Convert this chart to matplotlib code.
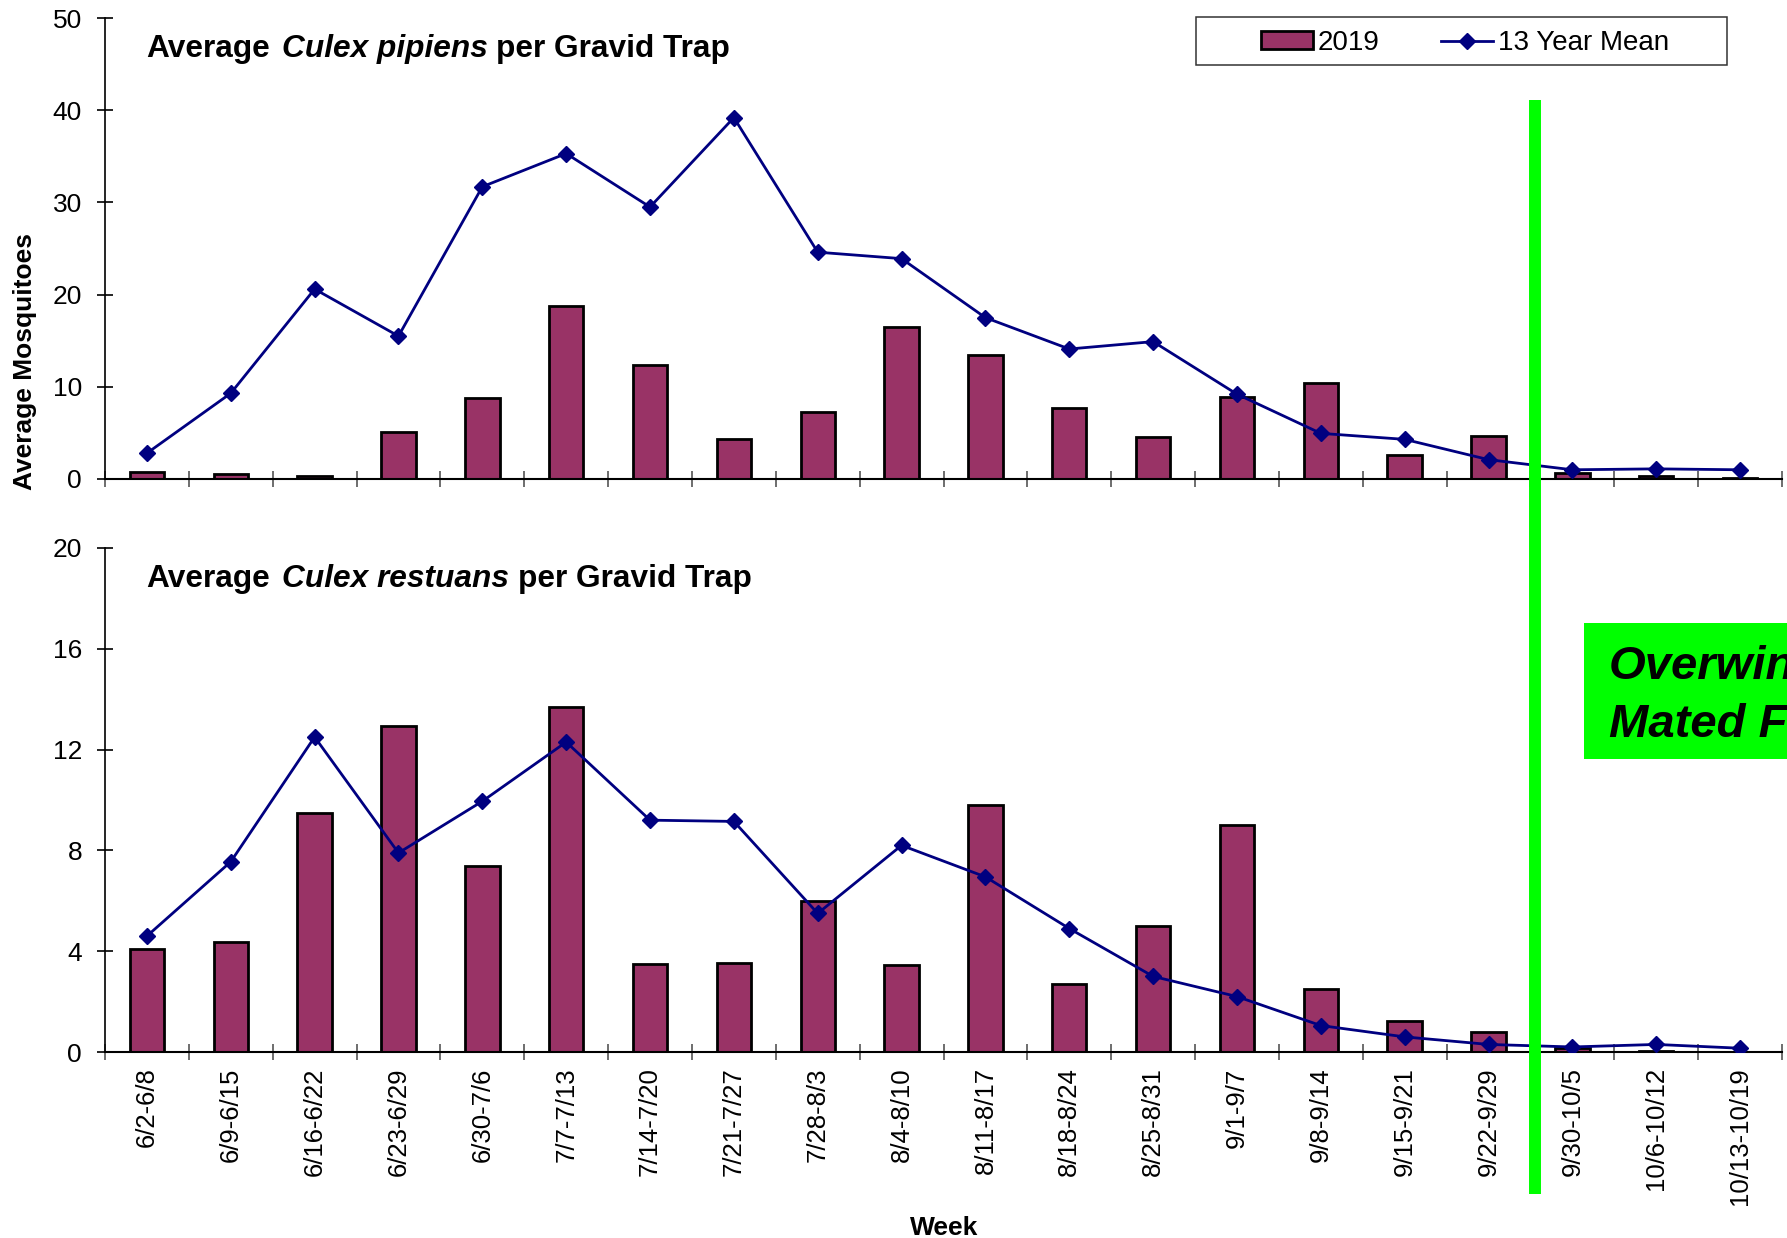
import numpy as np
import matplotlib
matplotlib.use("Agg")
import matplotlib.pyplot as plt
from matplotlib.patches import Rectangle, Patch
from matplotlib.lines import Line2D

plt.rcParams['font.family'] = ['Liberation Sans', 'DejaVu Sans']

# Weekly collection periods
weeks = ["6/2-6/8", "6/9-6/15", "6/16-6/22", "6/23-6/29", "6/30-7/6",
         "7/7-7/13", "7/14-7/20", "7/21-7/27", "7/28-8/3", "8/4-8/10",
         "8/11-8/17", "8/18-8/24", "8/25-8/31", "9/1-9/7", "9/8-9/14",
         "9/15-9/21", "9/22-9/29", "9/30-10/5", "10/6-10/12", "10/13-10/19"]

# Culex pipiens: 2019 averages and 13-year mean
pipiens_2019 = [0.8, 0.5, 0.3, 5.1, 8.8, 18.8, 12.4, 4.3, 7.3, 16.5,
                13.5, 7.7, 4.6, 8.9, 10.4, 2.6, 4.7, 0.7, 0.35, 0.1]
pipiens_mean = [2.8, 9.3, 20.6, 15.5, 31.7, 35.3, 29.5, 39.2, 24.6, 23.9,
                17.5, 14.1, 14.9, 9.2, 4.95, 4.3, 2.1, 1.0, 1.1, 1.0]

# Culex restuans: 2019 averages and 13-year mean
restuans_2019 = [4.1, 4.35, 9.5, 12.95, 7.4, 13.7, 3.5, 3.55, 6.0, 3.45,
                 9.8, 2.7, 5.0, 9.0, 2.5, 1.25, 0.8, 0.15, 0.05, 0.0]
restuans_mean = [4.6, 7.55, 12.5, 7.9, 9.95, 12.3, 9.2, 9.15, 5.5, 8.2,
                 6.95, 4.9, 3.0, 2.2, 1.05, 0.6, 0.3, 0.2, 0.3, 0.15]

pipiens_ticks = [0, 10, 20, 30, 40, 50]
restuans_ticks = [0, 4, 8, 12, 16, 20]

# Position of the overwintering cutoff between weeks
cutoff_week = 16.55

BAR_COLOR = '#993366'
LINE_COLOR = '#000080'
GREEN = '#00FF00'

W, H = 1787, 1238
fig = plt.figure(figsize=(W / 100, H / 100), dpi=100)

ax1 = fig.add_axes([105 / W, 1 - 479 / H, (1782 - 105) / W, (479 - 18) / H])
ax2 = fig.add_axes([105 / W, 1 - 1052 / H, (1782 - 105) / W, (1052 - 548) / H])

x = np.arange(len(weeks))


def draw_panel(ax, bars, mean, yticks):
    ax.bar(x, bars, width=0.41, color=BAR_COLOR, edgecolor='black',
           linewidth=2, zorder=2)
    ax.plot(x, mean, color=LINE_COLOR, lw=2, marker='D', ms=8.5,
            markeredgecolor=LINE_COLOR, zorder=3)
    ax.set_xlim(-0.5, len(weeks) - 0.5)
    ax.set_ylim(yticks[0], yticks[-1])
    ax.set_yticks(yticks)
    ax.set_xticks(np.arange(-0.5, len(weeks)), labels=[])
    ax.spines['top'].set_visible(False)
    ax.spines['right'].set_visible(False)
    ax.spines['left'].set_linewidth(1.2)
    ax.spines['bottom'].set_linewidth(1.5)
    ax.tick_params(axis='y', direction='inout', length=11, width=1.2,
                   labelsize=19, pad=11)
    ax.tick_params(axis='x', which='major', direction='inout', length=11,
                   width=1.2, color='#555555')


draw_panel(ax1, pipiens_2019, pipiens_mean, pipiens_ticks)
draw_panel(ax2, restuans_2019, restuans_mean, restuans_ticks)

ax2.set_xticks(x, labels=weeks, minor=True)
ax2.tick_params(axis='x', which='minor', length=0, pad=11, labelsize=18.5,
                labelrotation=90)

# Vertical cutoff line spanning both panels
ax2.axvline(cutoff_week, ymin=-0.282, ymax=1.889, color=GREEN, lw=8.6,
            solid_capstyle='butt', clip_on=False, zorder=10)


def panel_title(species, y_px):
    t1 = fig.text(146 / W, 1 - y_px / H, "Average", fontsize=22.8,
                  fontweight='bold', va='baseline', ha='left')
    t2 = plt.annotate(species, xy=(1, 0), xycoords=t1, xytext=(9, 0),
                      textcoords='offset points', fontsize=22.8,
                      fontweight='bold', fontstyle='italic',
                      va='bottom', ha='left', annotation_clip=False)
    plt.annotate("per Gravid Trap", xy=(1, 0), xycoords=t2, xytext=(6, 0),
                 textcoords='offset points', fontsize=22.8, fontweight='bold',
                 va='bottom', ha='left', annotation_clip=False)


panel_title("Culex pipiens", 57)
panel_title("Culex restuans", 587)

fig.text(25 / W, 1 - 362 / H, "Average Mosquitoes", rotation=90,
         fontsize=19, fontweight='bold', ha='center', va='center')
fig.text(944 / W, 1 - 1235 / H, "Week", fontsize=19, fontweight='bold',
         ha='center', va='baseline')

# Legend with its own frame
handles = [Patch(facecolor=BAR_COLOR, edgecolor='black', linewidth=2),
           Line2D([], [], color=LINE_COLOR, lw=2, marker='D', ms=8.5)]
fig.legend(handles, ["2019", "13 Year Mean"], loc='center',
           bbox_to_anchor=(1465 / W, 1 - 43 / H), ncol=2, frameon=False,
           fontsize=20, handlelength=1.87, handleheight=0.6,
           handletextpad=0.18, columnspacing=2.2, borderpad=0)
fig.add_artist(Rectangle((1196 / W, 1 - 65 / H), (1727 - 1196) / W, 48 / H,
                         transform=fig.transFigure, facecolor='none',
                         edgecolor='#333333', lw=1.1))

# Overwintering note
fig.add_artist(Rectangle((1584 / W, 1 - 759 / H), 400 / W, 136 / H,
                         transform=fig.transFigure, facecolor=GREEN,
                         edgecolor='none', zorder=5))
for line, y_px in [("Overwintering", 679), ("Mated Females", 737)]:
    fig.text(1609 / W, 1 - y_px / H, line, fontsize=34, fontweight='bold',
             fontstyle='italic', ha='left', va='baseline', zorder=6)

fig.savefig("out.png", dpi=100)
